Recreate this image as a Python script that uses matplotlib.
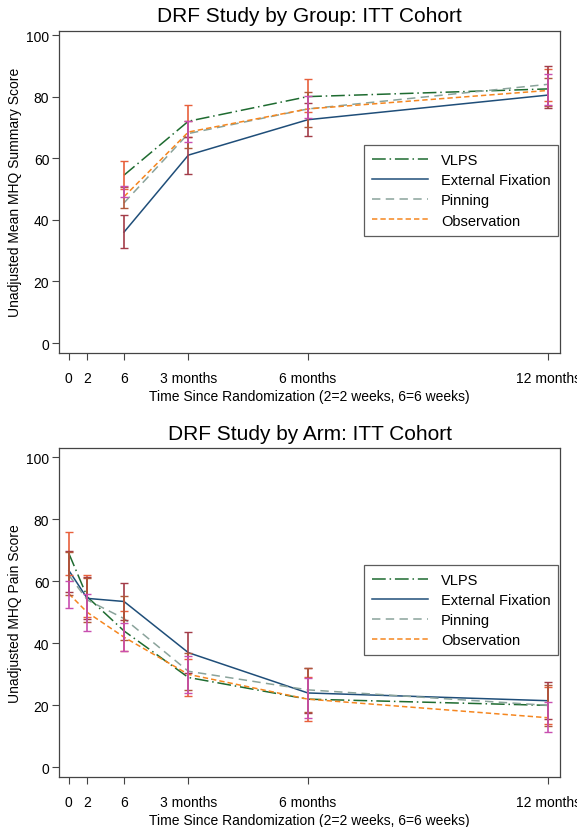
import matplotlib
matplotlib.use("Agg")
import matplotlib.pyplot as plt
import numpy as np

plt.rcParams['font.family'] = ['Liberation Sans', 'DejaVu Sans']

groups = ["VLPS", "External Fixation", "Pinning", "Observation"]
line_colors = ["#1E6B30", "#1F4E79", "#8AA39B", "#F5861F"]
ci_colors = ["#E8603C", "#A33C48", "#B0583A", "#C84FB0"]
line_styles = [(0, (9, 2.5, 1, 2.5)), "-", (0, (5.5, 3.5)), (0, (3.5, 2))]

tick_days = [0, 14, 42, 91, 182, 365]
tick_labels = ["0", "2", "6", "3 months", "6 months", "12 months"]

# Top panel: MHQ summary score
top_days = [42, 91, 182, 365]
top_mean = {
    "VLPS": [54.5, 72.0, 80.0, 82.5],
    "External Fixation": [36.0, 61.0, 72.5, 80.5],
    "Pinning": [45.5, 68.0, 76.0, 84.0],
    "Observation": [47.5, 68.5, 76.0, 82.0],
}
top_lo = {
    "VLPS": [50.0, 67.0, 75.0, 78.5],
    "External Fixation": [30.7, 55.0, 67.3, 76.2],
    "Pinning": [43.7, 63.2, 70.0, 77.0],
    "Observation": [47.3, 65.2, 73.0, 77.4],
}
top_hi = {
    "VLPS": [59.2, 77.4, 85.7, 89.0],
    "External Fixation": [41.5, 67.0, 78.0, 89.8],
    "Pinning": [50.6, 72.0, 81.5, 86.0],
    "Observation": [50.9, 72.0, 80.1, 87.3],
}

# Bottom panel: MHQ pain score
bot_days = [0, 14, 42, 91, 182, 365]
bot_mean = {
    "VLPS": [69.0, 55.0, 44.0, 29.0, 22.0, 20.0],
    "External Fixation": [63.5, 54.5, 53.5, 37.0, 24.0, 21.5],
    "Pinning": [62.0, 54.0, 48.0, 31.0, 25.0, 20.0],
    "Observation": [56.0, 50.0, 42.0, 30.0, 22.0, 16.0],
}
bot_lo = {
    "VLPS": [62.0, 48.5, 37.5, 23.0, 15.0, 14.0],
    "External Fixation": [56.5, 48.0, 47.5, 30.5, 17.5, 15.5],
    "Pinning": [55.5, 47.0, 41.0, 25.0, 18.0, 13.5],
    "Observation": [51.5, 44.0, 37.5, 24.0, 16.0, 11.5],
}
bot_hi = {
    "VLPS": [75.8, 62.0, 50.5, 35.0, 29.0, 26.0],
    "External Fixation": [69.9, 61.5, 59.4, 43.5, 31.9, 27.4],
    "Pinning": [69.3, 61.0, 55.2, 37.0, 32.0, 26.5],
    "Observation": [60.2, 56.0, 46.5, 36.0, 28.7, 21.0],
}

W, H = 577, 828
fig = plt.figure(figsize=(W / 100, H / 100), dpi=100)

def ax_rect(left, top, right, bottom):
    return [left / W, 1 - bottom / H, (right - left) / W, (bottom - top) / H]

ax1 = fig.add_axes(ax_rect(59, 32, 560, 353.5))
ax2 = fig.add_axes(ax_rect(59, 449.3, 560, 778))

def draw(ax, days, mean, lo, hi, title, ylabel, ylim):
    for g, c, ls in zip(groups, line_colors, line_styles):
        ax.plot(days, mean[g], color=c, linestyle=ls, lw=1.1, label=g, zorder=2)
    for g, c in zip(groups, ci_colors):
        m = np.array(mean[g]); l = np.array(lo[g]); h = np.array(hi[g])
        ax.errorbar(days, m, yerr=[m - l, h - m], fmt='none', ecolor=c,
                    elinewidth=1.2, capsize=3, capthick=1.0, zorder=3)
    ax.set_xlim(-7.5, 374)
    ax.set_ylim(*ylim)
    ax.set_xticks(tick_days)
    ax.set_xticklabels(tick_labels)
    ax.set_yticks([0, 20, 40, 60, 80, 100])
    ax.tick_params(axis='both', labelsize=10, length=5, width=0.8, color='#444444')
    ax.tick_params(axis='y', pad=2)
    ax.tick_params(axis='x', pad=8)
    for s in ax.spines.values():
        s.set_color('#444444'); s.set_linewidth(0.9)
    ax.set_title(title, fontsize=15, pad=7)
    ax.set_ylabel(ylabel, fontsize=10, labelpad=3)
    ax.set_xlabel("Time Since Randomization (2=2 weeks, 6=6 weeks)", fontsize=10, labelpad=3)
    for lbl in ax.get_xticklabels():
        lbl.set_clip_on(False)
    leg = ax.legend(loc='upper right', bbox_to_anchor=(0.997, 0.645), borderaxespad=0,
                    fontsize=10.5, handlelength=3.8, labelspacing=0.42, frameon=True,
                    fancybox=False, borderpad=0.55, handletextpad=0.9)
    leg.get_frame().set_edgecolor('#333333')
    leg.get_frame().set_linewidth(0.9)

draw(ax1, top_days, top_mean, top_lo, top_hi, "DRF Study by Group: ITT Cohort",
     "Unadjusted Mean MHQ Summary Score", (-3.08, 101.3))
draw(ax2, bot_days, bot_mean, bot_lo, bot_hi, "DRF Study by Arm: ITT Cohort",
     "Unadjusted MHQ Pain Score", (-3.1, 102.9))

fig.savefig("out.png", dpi=100)
